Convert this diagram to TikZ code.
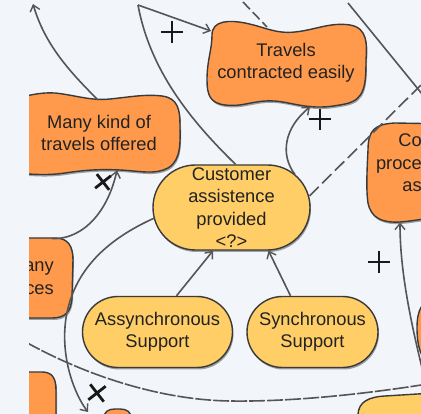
\documentclass[tikz,border=0pt]{standalone}
\usepackage{fontspec}
\setmainfont{Liberation Sans}
\usetikzlibrary{shapes.misc,arrows.meta,shadows}
\definecolor{bgc}{HTML}{F2F5F9}
\definecolor{orf}{HTML}{FF9A4C}
\definecolor{yef}{HTML}{FFCE66}
\definecolor{bord}{HTML}{3A3A3A}
\definecolor{lnc}{HTML}{555555}
\definecolor{txc}{HTML}{222222}
\tikzset{
  shad/.style={drop shadow={shadow xshift=1pt,shadow yshift=-2pt,fill=black!60,opacity=0.6}},
  oshape/.style={fill=orf,draw=bord,line width=1.4pt,shad},
  yshape/.style={fill=yef,draw=bord,line width=1.4pt,shad},
  txt/.style={inner sep=0pt,align=center,text=txc,font=\fontsize{18.3}{22.5}\selectfont},
  stad/.style={rounded rectangle,rounded rectangle arc length=180,fill=yef,draw=bord,
     line width=1.4pt,shad,inner sep=0pt,align=center,text=txc,font=\fontsize{18.3}{22.5}\selectfont},
  ln/.style={draw=lnc,line width=1.6pt},
  arr/.style={-{Straight Barb[length=6pt,width=10pt,line width=1.4pt]}},
  crossln/.style={draw=black!90,line width=2.8pt},
}
\begin{document}
\begin{tikzpicture}[x=1pt,y=-1pt]
\useasboundingbox (0,0) rectangle (421,414);
\fill[bgc] (0,0) rectangle (421,414);
\begin{scope}
\clip (29,0) rectangle (421,414);
% ---- cloud / partial shapes
\path[oshape] (212,35) .. controls (212,20) and (230,20) .. (245,23) .. controls (265,27) and (275,34) .. (295,32) .. controls (315,30) and (330,22) .. (350,25) .. controls (368,28) and (367,45) .. (366,60) .. controls (366,85) and (365,100) .. (345,104) .. controls (330,107) and (320,108) .. (305,106) .. controls (290,104) and (280,100) .. (265,101) .. controls (250,102) and (240,107) .. (225,105) .. controls (210,103) and (207,95) .. (207,80) .. controls (207,60) and (212,50) .. cycle;
\node[txt,minimum width=160pt,minimum height=85pt] (travels) at (286,63) {Travels\\contracted easily};

\path[oshape] (10,100) .. controls (25,96) and (40,92) .. (55,93) .. controls (75,95) and (90,101) .. (110,99) .. controls (130,97) and (145,94) .. (162,96) .. controls (178,98) and (180,110) .. (180,125) .. controls (180,140) and (182,160) .. (168,168) .. controls (155,175) and (140,171) .. (120,170) .. controls (100,169) and (85,170) .. (65,173) .. controls (45,176) and (25,174) .. (10,172) -- cycle;
\node[txt,minimum width=162pt,minimum height=80pt] (many) at (99,133) {Many kind of\\travels offered};

\path[oshape] (450,124) -- (395,123) .. controls (375,124) and (368,130) .. (368,150) .. controls (367,170) and (366,190) .. (368,203) .. controls (371,218) and (382,223) .. (400,222) .. controls (415,221) and (430,217) .. (450,217) -- cycle;
\node[txt,align=right,anchor=east] (co) at (422,163) {Co\\proce\\as};

\path[oshape] (10,238) -- (55,238) .. controls (68,238) and (73,246) .. (73,260) -- (72,298) .. controls (71,312) and (65,318) .. (52,318) -- (10,318) -- cycle;
\node[txt,align=right,anchor=east] (anyn) at (54,278) {any\\ces};

\path[oshape] (10,372) -- (42,372) .. controls (52,372) and (56,378) .. (56,390) -- (56,430) -- (10,430) -- cycle;
\path[oshape] (104,430) -- (104,418) .. controls (104,412) and (108,409) .. (115,409) -- (120,409) .. controls (127,409) and (131,412) .. (131,418) -- (131,430) -- cycle;
\path[yshape] (358,430) -- (358,414) .. controls (359,402) and (368,397) .. (385,396) -- (450,392) -- (450,430) -- cycle;
\path[oshape] (450,300) -- (435,300) .. controls (422,300) and (417,310) .. (417,328) .. controls (417,348) and (422,364) .. (435,364) -- (450,364) -- cycle;

% ---- stadium nodes
\node[stad,minimum width=157pt,minimum height=85pt] (cust) at (231.5,207.5) {Customer\\assistence\\provided\\<?>};
\node[stad,minimum width=150pt,minimum height=71pt] (async) at (157.5,332) {Assynchronous\\Support};
\node[stad,minimum width=131pt,minimum height=71pt] (sync) at (312.5,332) {Synchronous\\Support};

% ---- attach points
\coordinate (apex) at (138,5);
\coordinate (tl-end) at (33,4);
\coordinate (m-top) at (98,100);
\coordinate (m-bot) at (117,170.5);
\coordinate (any-top) at (52,238.5);
\coordinate (tr-l) at (211,31);
\coordinate (tr-t) at (267,27);
\coordinate (tr-b) at (310,107);
\coordinate (top-d) at (243,2);
\coordinate (top-s) at (348,3);
\coordinate (rs-end) at (440,116);
\coordinate (c-tr) at (295,174.5);
\coordinate (c-r) at (309.5,196);
\coordinate (c-l) at (154.5,218);
\coordinate (d-end) at (440,66);
\coordinate (bot-end) at (88,412);
\coordinate (bl-start) at (10,333);
\coordinate (br-end) at (440,382);
\coordinate (co-b) at (400,222.5);
\coordinate (rb-start) at (425,380);

% ---- connectors
\draw[ln,arr] (m-top) .. controls (70,72) and (45,45) .. (tl-end);
\draw[ln,arr] (apex) -- (tr-l);
\draw[ln] (apex) .. controls (150,70) and (190,120) .. ([xshift=4pt]cust.north);
\draw[ln,dash pattern=on 10pt off 4pt] (top-d) -- (tr-t);
\draw[ln] (top-s) -- (rs-end);
\draw[ln,dash pattern=on 13pt off 5pt] (c-r) -- (d-end);
\draw[ln,arr] (c-tr) .. controls (280,155) and (284,128) .. (tr-b);
\draw[ln,arr] ([xshift=19pt]async.north) -- ([xshift=-18.5pt]cust.south);
\draw[ln,arr] ([xshift=-22pt]sync.north) -- ([xshift=37pt]cust.south);
\draw[ln,arr] (any-top) .. controls (75,240) and (105,222) .. (m-bot);
\draw[ln,arr] (c-l) .. controls (110,238) and (74,268) .. (66,318) .. controls (60,358) and (75,395) .. (bot-end);
\draw[ln,dash pattern=on 16pt off 2pt] (bl-start) .. controls (80,375) and (160,400) .. (230,401) .. controls (300,402) and (380,392) .. (br-end);
\draw[ln,arr] (rb-start) .. controls (410,320) and (400,270) .. (co-b);

% ---- contribution marks
\draw[crossln,shift={(172,32)}] (-11,0) -- (11,0) (0,-11) -- (0,11);
\draw[crossln,shift={(320,119)}] (-11,0) -- (11,0) (0,-10) -- (0,11);
\draw[crossln,shift={(379,262)}] (-11,0) -- (11,0) (0,-11) -- (0,11);
\draw[crossln,shift={(103,182)},rotate=38] (-10,0) -- (10,0) (0,-10) -- (0,10);
\draw[crossln,shift={(97,393)},rotate=38] (-11,0) -- (11,0) (0,-11) -- (0,11);
\end{scope}
\end{tikzpicture}
\end{document}
